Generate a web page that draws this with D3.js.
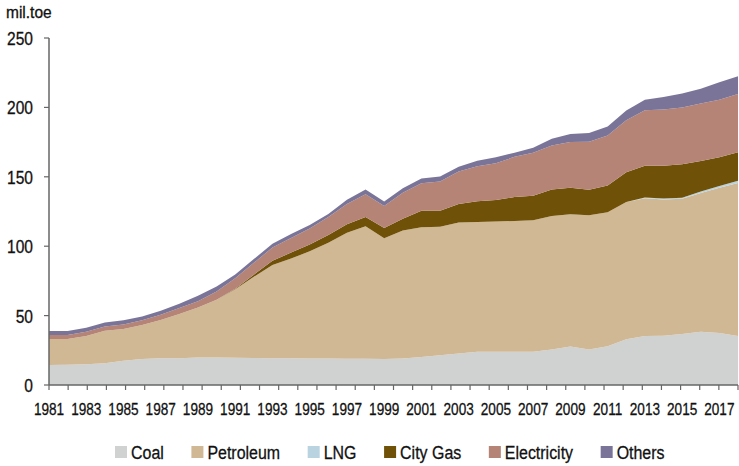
<!DOCTYPE html>
<html lang="en">
<head>
<meta charset="UTF-8">
<title>Final energy consumption by source</title>
<script src="https://d3js.org/d3.v7.min.js"></script>
<style>
  body { margin: 0; background: #fff; }
  svg { display: block; }
  text {
    font-family: "Liberation Sans", Arial, sans-serif;
    fill: #111;
    stroke: #111;
    stroke-width: 0.3px;
  }
  .axis-line { stroke: #666; stroke-width: 1.5; }
  .tick-mark { stroke: #666; stroke-width: 1.2; }
</style>
</head>
<body>
<div id="chart"></div>
<script>
  // years on the x axis
  const years = [1981, 1982, 1983, 1984, 1985, 1986, 1987, 1988, 1989, 1990,
                 1991, 1992, 1993, 1994, 1995, 1996, 1997, 1998, 1999, 2000,
                 2001, 2002, 2003, 2004, 2005, 2006, 2007, 2008, 2009, 2010,
                 2011, 2012, 2013, 2014, 2015, 2016, 2017, 2018];

  // mil.toe by source
  const coal = [14.4, 14.5, 14.9, 15.6, 17.5, 18.7, 19.3, 19.3, 19.8, 19.8,
                19.7, 19.5, 19.3, 19.2, 19.1, 19.1, 19.0, 18.9, 18.7, 19.1,
                20.2, 21.4, 22.7, 24.0, 24.0, 24.0, 24.0, 25.6, 27.7, 25.5,
                28.0, 33.0, 35.3, 35.4, 36.7, 38.3, 37.5, 35.3];
  const petroleum = [18.7, 18.6, 20.4, 23.5, 22.8, 24.5, 27.5, 31.9, 36.0, 41.6,
                     49.2, 58.5, 67.2, 71.9, 77.2, 83.3, 90.7, 95.4, 87.1, 92.2,
                     93.4, 92.6, 94.4, 93.5, 93.8, 94.2, 94.7, 96.2, 95.4, 96.8,
                     96.5, 98.8, 99.2, 98.3, 97.4, 100.1, 104.7, 110.2];
  const lng = [0, 0, 0, 0, 0, 0, 0, 0, 0, 0,
               0, 0, 0, 0, 0, 0, 0, 0, 0, 0,
               0, 0, 0, 0, 0, 0, 0, 0, 0, 0,
               0, 0, 0.5, 0.7, 0.8, 1.0, 1.2, 1.7];
  const cityGas = [0, 0, 0, 0, 0, 0, 0, 0, 0, 0,
                   0.5, 1.5, 3.0, 4.3, 5.0, 5.6, 6.2, 6.7, 7.3, 8.4,
                   12.0, 11.6, 13.3, 14.9, 15.4, 17.2, 17.6, 19.0, 19.0, 18.4,
                   19.2, 21.5, 23.0, 23.6, 24.2, 22.0, 20.6, 20.4];
  const electricity = [2.9, 2.9, 3.0, 3.0, 3.2, 3.5, 3.8, 4.2, 4.6, 6.0,
                       7.5, 8.5, 9.5, 10.5, 11.5, 13.0, 14.5, 16.5, 15.8, 18.8,
                       19.7, 21.0, 23.5, 25.2, 26.5, 29.0, 31.0, 31.8, 33.0, 34.6,
                       36.0, 37.5, 39.9, 40.4, 40.8, 41.5, 41.6, 42.0];
  const others = [2.9, 2.9, 2.9, 2.9, 3.1, 2.7, 2.9, 3.1, 3.9, 3.5,
                  2.7, 2.7, 2.8, 2.9, 2.5, 2.2, 3.0, 3.4, 3.3, 3.2,
                  3.5, 3.6, 3.4, 3.9, 4.4, 3.0, 3.7, 4.9, 5.7, 6.2,
                  6.5, 7.0, 7.7, 9.1, 10.1, 10.6, 12.6, 12.8];

  const seriesNames = ["Coal", "Petroleum", "LNG", "City Gas", "Electricity", "Others"];
  const seriesValues = [coal, petroleum, lng, cityGas, electricity, others];
  const colors = ["#d0d2d1", "#d0b894", "#b9d3e0", "#6f5108", "#b58477", "#7a7598"];
  const yTicks = [0, 50, 100, 150, 200, 250];

  const width = 739, height = 466;
  const margin = { top: 38, right: 1, bottom: 81, left: 49 };

  const svg = d3.select("#chart").append("svg")
      .attr("width", width)
      .attr("height", height);

  // narrow text: place at (px, py) and squeeze horizontally (original uses a condensed face)
  function label(parent, px, py, str, size, squeeze, anchor) {
    return parent.append("text")
        .attr("transform", `translate(${px},${py}) scale(${squeeze},1)`)
        .attr("text-anchor", anchor || "start")
        .style("font-size", size + "px")
        .text(str);
  }

  // rows for d3.stack
  const rows = years.map((yr, i) => {
    const r = { year: yr };
    seriesNames.forEach((n, k) => { r[n] = seriesValues[k][i]; });
    return r;
  });

  const x = d3.scaleLinear()
      .domain([years[0], years[years.length - 1]])
      .range([margin.left, width - margin.right]);

  const y = d3.scaleLinear()
      .domain([0, 250])
      .range([height - margin.bottom, margin.top]);

  const stacked = d3.stack().keys(seriesNames)(rows);

  const area = d3.area()
      .x(d => x(d.data.year))
      .y0(d => y(d[0]))
      .y1(d => y(d[1]));

  svg.append("g")
    .selectAll("path")
    .data(stacked)
    .join("path")
      .attr("fill", (d, i) => colors[i])
      .attr("d", area);

  // y axis
  const yAxis = svg.append("g");
  yAxis.append("line")
      .attr("class", "axis-line")
      .attr("x1", margin.left).attr("x2", margin.left)
      .attr("y1", y(250)).attr("y2", y(0));
  yAxis.selectAll(".ytick")
    .data(yTicks)
    .join("line")
      .attr("class", "tick-mark")
      .attr("x1", margin.left - 5).attr("x2", margin.left)
      .attr("y1", d => y(d)).attr("y2", d => y(d));
  yTicks.forEach(v => label(yAxis, 33, y(v) + 7, v, 19, 0.82, "end"));

  label(svg, 6, 18, "mil.toe", 16, 0.97);

  // x axis: tick marks are spaced a little wider than the year labels
  const tickCount = years.length - 1;
  const tickX = d3.scaleLinear()
      .domain([0, tickCount - 1])
      .range([margin.left, width - margin.right]);
  const xAxis = svg.append("g");
  xAxis.append("line")
      .attr("class", "axis-line")
      .attr("x1", margin.left).attr("x2", width - margin.right)
      .attr("y1", y(0)).attr("y2", y(0));
  xAxis.selectAll(".xtick")
    .data(d3.range(tickCount))
    .join("line")
      .attr("class", "tick-mark")
      .attr("x1", d => tickX(d)).attr("x2", d => tickX(d))
      .attr("y1", y(0)).attr("y2", y(0) + 5);
  years.filter((d, i) => i % 2 === 0)
      .forEach(yr => label(xAxis, x(yr), y(0) + 30, yr, 17, 0.8, "middle"));

  // legend
  const legend = svg.append("g").attr("transform", "translate(115,446)");
  let lx = 0;
  seriesNames.forEach((name, i) => {
    const g = legend.append("g").attr("transform", `translate(${lx},0)`);
    g.append("rect")
        .attr("width", 12).attr("height", 12)
        .attr("fill", colors[i]);
    const t = label(g, 16, 12.5, name, 19, 0.84);
    lx += 16 + t.node().getComputedTextLength() * 0.84 + 27.6;
  });
</script>
</body>
</html>
